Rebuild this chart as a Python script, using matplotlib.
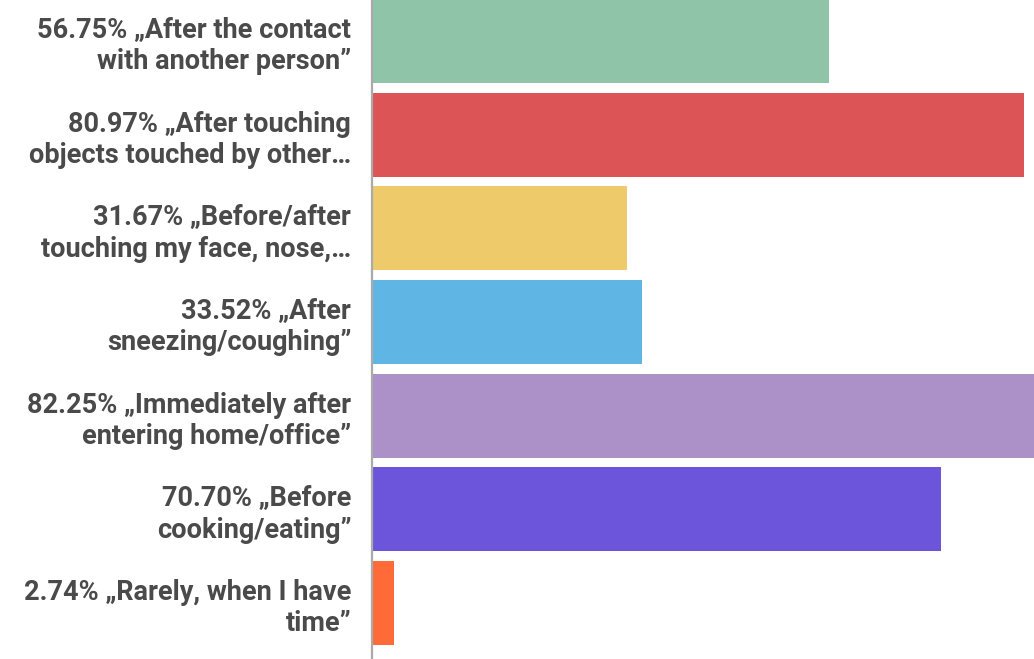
import matplotlib.pyplot as plt

# answers and shares (%)
labels = [
    "56.75% \u201eAfter the contact\nwith another person\u201d",
    "80.97% \u201eAfter touching\nobjects touched by other\u2026",
    "31.67% \u201eBefore/after\ntouching my face, nose,\u2026",
    "33.52% \u201eAfter\nsneezing/coughing\u201d",
    "82.25% \u201eImmediately after\nentering home/office\u201d",
    "70.70% \u201eBefore\ncooking/eating\u201d",
    "2.74% \u201eRarely, when I have\ntime\u201d",
]
values = [56.75, 80.97, 31.67, 33.52, 82.25, 70.70, 2.74]
colors = ["#8fc4a9", "#dc5456", "#eeca6b", "#5fb6e5", "#ab91c7", "#6c55da", "#fe6a38"]

plt.rcParams["font.family"] = ["Roboto", "DejaVu Sans"]

fig = plt.figure(figsize=(10.34, 6.59), dpi=100)
ax = fig.add_axes([372 / 1034, 0, 1 - 372 / 1034, 1])

pos = list(range(len(values)))
ax.barh(pos, values, height=0.9, color=colors)

ax.set_xlim(0, max(values))
ax.set_ylim(6.598, -0.438)

ax.set_yticks(pos)
ax.set_yticklabels(labels, fontsize=19.5, fontweight="bold", color="#4a4a4a",
                   linespacing=1.2)
ax.tick_params(axis="y", length=0, pad=15)
ax.tick_params(axis="x", bottom=False, labelbottom=False)
for lab in ax.get_yticklabels():
    lab.set_horizontalalignment("right")

for s in ["top", "right", "bottom"]:
    ax.spines[s].set_visible(False)
ax.spines["left"].set_color("#aaaaaa")
ax.spines["left"].set_linewidth(1.6)

fig.savefig("out.png", dpi=100)
plt.close()
